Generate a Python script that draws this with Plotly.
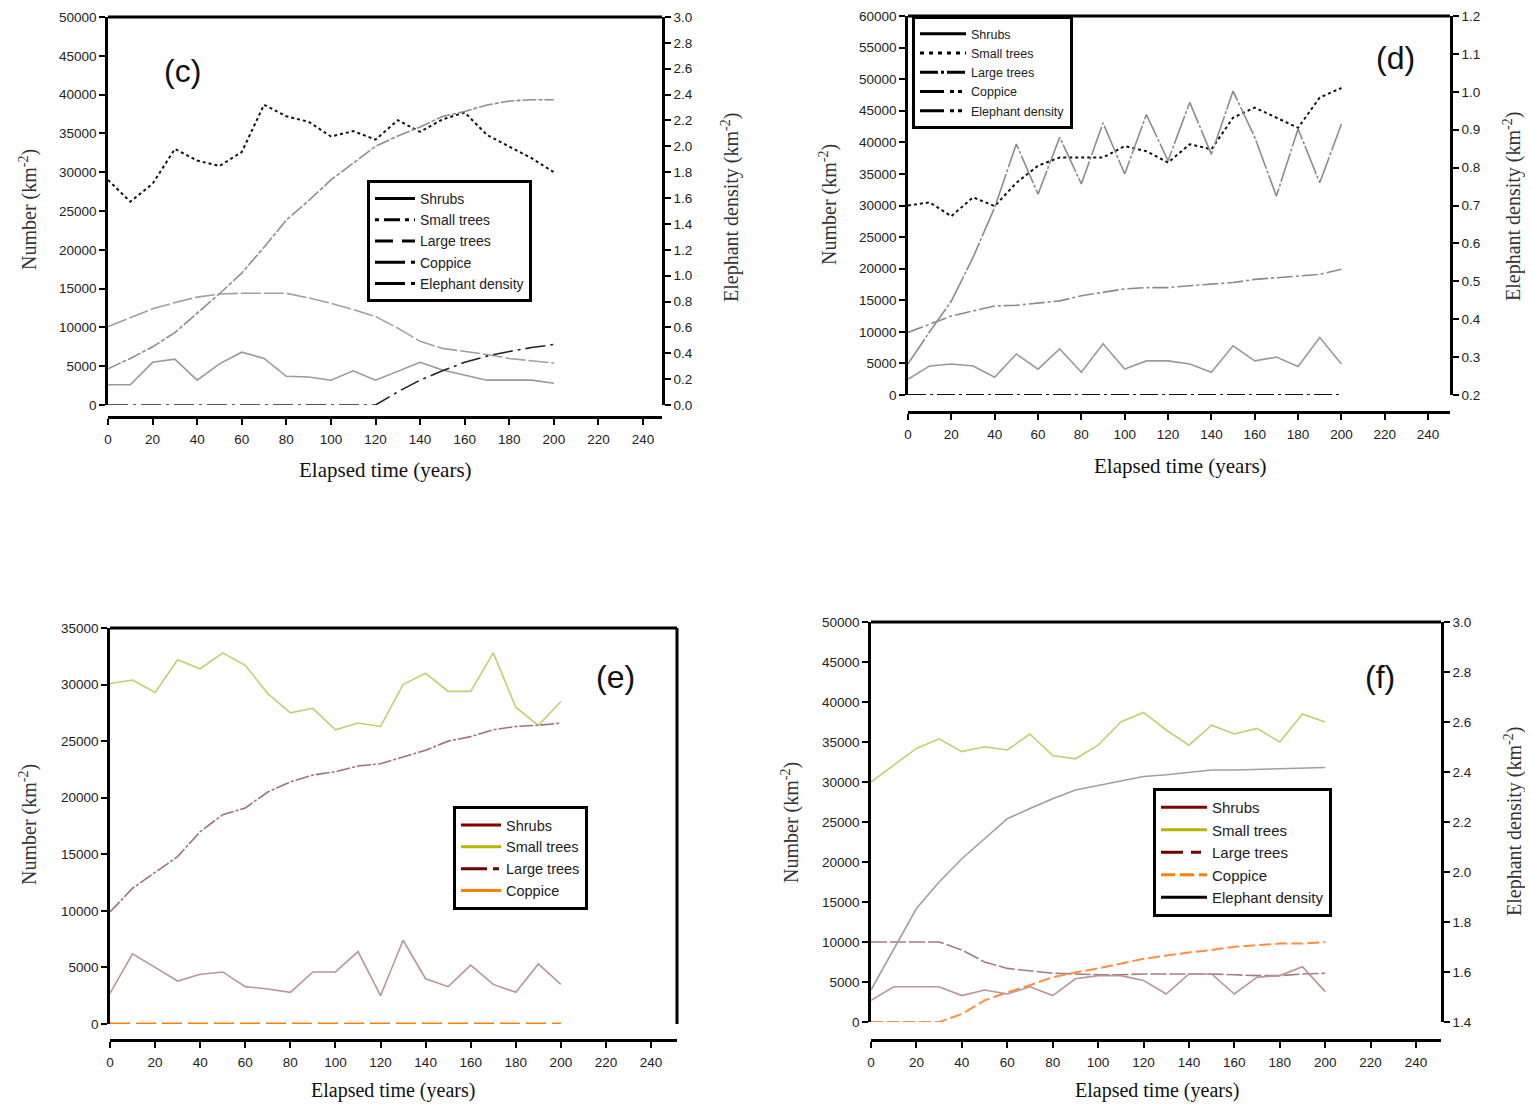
import plotly.graph_objects as go

# The page adds an 8 px body margin, so the figure is sized to fit inside the
# 1533x1111 window and reference pixel positions are shifted by that margin.
W, H = 1533, 1111
OFF = 8
FW, FH = W - 2 * OFF, H - 2 * OFF


def px(p):
    return (p - OFF) / FW


def py(p):
    return 1 - (p - OFF) / FH


years = list(range(0, 201, 10))
x_ticks = list(range(0, 241, 20))

# ---------------- panel (c) ----------------
c_shrubs = [2600, 2600, 5500, 5900, 3200, 5300, 6800, 6000, 3700, 3600, 3200,
            4400, 3200, 4400, 5500, 4500, 3800, 3200, 3200, 3200, 2800]
c_small = [29000, 26200, 28500, 33000, 31500, 30800, 32600, 38700, 37200, 36500, 34600,
           35300, 34200, 36700, 35200, 36800, 37700, 34800, 33300, 31800, 30000]
c_large = [10100, 11300, 12400, 13200, 13900, 14300, 14400, 14400, 14400, 13800, 13100,
           12300, 11400, 9900, 8200, 7300, 6900, 6500, 6000, 5700, 5400]
c_coppice = [0, 0, 0, 0, 0, 0, 0, 0, 0, 0, 0, 0, 0,
             1700, 3200, 4400, 5500, 6300, 6900, 7400, 7800]
c_elephant = [0.28, 0.36, 0.45, 0.56, 0.71, 0.86, 1.02, 1.22, 1.43, 1.58, 1.74,
              1.87, 2.00, 2.08, 2.15, 2.23, 2.27, 2.32, 2.35, 2.36, 2.36]

# ---------------- panel (d) ----------------
d_shrubs = [2500, 4600, 4900, 4600, 2800, 6500, 4100, 7300, 3600, 8100, 4100,
            5400, 5400, 4900, 3600, 7800, 5400, 6000, 4500, 9100, 4900]
d_small = [30000, 30500, 28300, 31300, 29900, 33600, 36300, 37600, 37600, 37600, 39400,
           38600, 36800, 39700, 38900, 43900, 45500, 43900, 42300, 47100, 48600]
d_large = [9900, 11200, 12500, 13300, 14100, 14200, 14600, 14900, 15700, 16200, 16800,
           17000, 17000, 17300, 17500, 17800, 18300, 18600, 18900, 19100, 19900]
d_coppice = [0] * 21
d_elephant = [0.282, 0.367, 0.448, 0.563, 0.695, 0.862, 0.730, 0.880, 0.757, 0.918, 0.783,
              0.940, 0.818, 0.972, 0.835, 1.002, 0.880, 0.725, 0.902, 0.760, 0.915]

# ---------------- panel (e) ----------------
e_shrubs = [2700, 6200, 5000, 3800, 4400, 4600, 3300, 3100, 2800, 4600, 4600,
            6400, 2500, 7400, 4000, 3300, 5200, 3500, 2800, 5300, 3500]
e_small = [30100, 30400, 29300, 32200, 31400, 32800, 31700, 29200, 27500, 27900, 26000,
           26600, 26300, 30000, 31000, 29400, 29400, 32800, 28000, 26400, 28500]
e_large = [9900, 12000, 13400, 14800, 17000, 18500, 19100, 20500, 21400, 22000, 22300,
           22800, 23000, 23600, 24200, 25000, 25400, 26000, 26300, 26400, 26600]
e_coppice = [0] * 21

# ---------------- panel (f) ----------------
f_shrubs = [2700, 4400, 4400, 4400, 3300, 4000, 3500, 4400, 3300, 5400, 5800,
            5800, 5200, 3500, 6000, 6000, 3500, 5600, 5800, 6900, 3800]
f_small = [30000, 32100, 34200, 35400, 33800, 34400, 34000, 36000, 33300, 32900, 34600,
           37500, 38700, 36500, 34600, 37100, 36000, 36700, 35000, 38500, 37500]
f_large = [10000, 10000, 10000, 10000, 9000, 7500, 6700, 6400, 6100, 6000, 5900,
           5900, 6000, 6000, 6000, 6000, 5900, 5800, 5800, 6000, 6100]
f_coppice = [0, 0, 0, 0, 1000, 2700, 3700, 4600, 5600, 6200, 6700,
             7300, 7900, 8300, 8700, 9000, 9400, 9600, 9800, 9800, 10000]
f_elephant = [1.528, 1.694, 1.854, 1.960, 2.053, 2.133, 2.213, 2.254, 2.293, 2.328, 2.347,
              2.366, 2.382, 2.389, 2.398, 2.408, 2.408, 2.411, 2.414, 2.418, 2.418]

legend_names = ["Shrubs", "Small trees", "Large trees", "Coppice", "Elephant density"]

fig = go.Figure()


def line(x, y, xa, ya, color, dash="solid", width=1.6):
    fig.add_trace(go.Scatter(x=x, y=y, xaxis=xa, yaxis=ya, mode="lines",
                             line=dict(color=color, dash=dash, width=width),
                             showlegend=False, hoverinfo="skip"))


def legend_entry(name, xa, ya, legend, color, dash, width=3):
    fig.add_trace(go.Scatter(x=[None], y=[None], xaxis=xa, yaxis=ya, mode="lines",
                             name=name, legend=legend,
                             line=dict(color=color, dash=dash, width=width)))


# panel (c) traces
line(years, c_small, "x", "y", "#111111", "dot", 2)
line(years, c_large, "x", "y", "#a0a0a0", "20px,3px", 1.6)
line(years, c_shrubs, "x", "y", "#9a9a9a", "solid", 1.6)
line(years, c_coppice, "x", "y", "#222222", "20px,5px,3px,5px", 1.6)
line(years, c_elephant, "x", "y2", "#8e8e8e", "14px,2px,4px,2px", 1.6)
c_leg_styles = ["solid", "4px,5px,16px,5px", "18px,9px", "30px,6px,4px,6px", "30px,6px,4px,6px"]
for n, d in zip(legend_names, c_leg_styles):
    legend_entry(n, "x", "y", "legend", "black", d)

# panel (d) traces
line(years, d_small, "x2", "y3", "#111111", "dot", 2)
line(years, d_large, "x2", "y3", "#8a8a8a", "16px,3px,3px,3px", 1.6)
line(years, d_shrubs, "x2", "y3", "#9a9a9a", "solid", 1.6)
line(years, d_coppice, "x2", "y3", "#111111", "18px,4px,3px,4px", 2)
line(years, d_elephant, "x2", "y4", "#8c8c8c", "30px,2px,3px,2px", 1.6)
d_leg_styles = ["solid", "4px,5px", "18px,3px,3px,3px", "24px,6px,4px,4px,4px,6px",
                "24px,6px,4px,4px,4px,6px"]
for n, d in zip(legend_names, d_leg_styles):
    legend_entry(n, "x2", "y3", "legend2", "black", d)

# panel (e) traces
line(years, e_small, "x3", "y5", "#c8cc70", "solid", 1.6)
line(years, e_large, "x3", "y5", "#a07474", "14px,2px,3px,2px", 1.6)
line(years, e_shrubs, "x3", "y5", "#bb9696", "solid", 1.6)
line(years, e_coppice, "x3", "y5", "#ff8000", "20px,6px", 3)
e_leg = [("Shrubs", "#800000", "solid"), ("Small trees", "#b4b400", "solid"),
         ("Large trees", "#700000", "26px,6px,6px,6px"), ("Coppice", "#ff8000", "solid")]
for n, c, d in e_leg:
    legend_entry(n, "x3", "y5", "legend3", c, d)

# panel (f) traces
line(years, f_small, "x4", "y6", "#c8cc70", "solid", 1.6)
line(years, f_large, "x4", "y6", "#a67c7c", "16px,3px", 1.6)
line(years, f_coppice, "x4", "y6", "#ff9040", "12px,4px", 2)
line(years, f_shrubs, "x4", "y6", "#bb9494", "solid", 1.6)
line(years, f_elephant, "x4", "y7", "#a0a0a0", "solid", 1.6)
f_leg = [("Shrubs", "#800000", "solid"), ("Small trees", "#b4b400", "solid"),
         ("Large trees", "#700000", "22px,8px,10px,8px"), ("Coppice", "#ff8000", "14px,5px"),
         ("Elephant density", "black", "solid")]
for n, c, d in f_leg:
    legend_entry(n, "x4", "y6", "legend4", c, d)

tickfont = dict(family="Liberation Sans", size=13.5, color="#222222")
ax = dict(showline=True, linecolor="black", linewidth=2.5, ticks="outside", ticklen=6,
          tickwidth=2, tickcolor="black", showgrid=False, zeroline=False, tickfont=tickfont,
          fixedrange=True, automargin=False, ticklabeloverflow="allow")


def xaxis(x0, x1, pos, rmax):
    return dict(ax, domain=[px(x0), px(x1)], range=[0, rmax], anchor="free",
                position=py(pos), tickvals=x_ticks, ticklabelstandoff=3)


def yleft(y_zero, y_top, rmax, dtick, anchor):
    return dict(ax, domain=[py(y_zero), py(y_top)], range=[0, rmax], dtick=dtick,
                tickformat="d", anchor=anchor)


def yright(over, anchor, r, dtick):
    return dict(ax, overlaying=over, side="right", anchor=anchor, range=r, dtick=dtick,
                tickformat=".1f")


leg_common = dict(bgcolor="white", bordercolor="black", borderwidth=3,
                  xanchor="left", yanchor="top", itemclick=False, itemdoubleclick=False,
                  itemwidth=40)

fig.update_layout(
    width=FW, height=FH, margin=dict(l=0, r=0, t=0, b=0, autoexpand=False),
    paper_bgcolor="white", plot_bgcolor="white",
    xaxis=xaxis(108, 662, 417, 248.5),
    yaxis=yleft(405, 17, 50000, 5000, "x"),
    yaxis2=yright("y", "x", [0, 3], 0.2),
    xaxis2=xaxis(908, 1450, 412, 250.1),
    yaxis3=yleft(395, 16, 60000, 5000, "x2"),
    yaxis4=yright("y3", "x2", [0.2, 1.2], 0.1),
    xaxis3=xaxis(110, 677, 1040, 251.5),
    yaxis5=yleft(1024, 628, 35000, 5000, "x3"),
    xaxis4=xaxis(871, 1441, 1040, 251),
    yaxis6=yleft(1022, 622, 50000, 5000, "x4"),
    yaxis7=yright("y6", "x4", [1.4, 3.0], 0.2),
    legend=dict(leg_common, x=px(367), y=py(180),
                font=dict(family="Liberation Sans", size=14, color="#222")),
    legend2=dict(leg_common, x=px(912), y=py(16), itemwidth=46,
                 font=dict(family="Liberation Sans", size=12.5, color="#222")),
    legend3=dict(leg_common, x=px(453), y=py(806),
                 font=dict(family="Liberation Sans", size=14.5, color="#222")),
    legend4=dict(leg_common, x=px(1153), y=py(788), itemwidth=46,
                 font=dict(family="Liberation Sans", size=15, color="#222")),
)

# frame lines (top borders, right border of panel e)
shapes = []
for x0, x1, y in [(108, 662, 17), (908, 1450, 16), (110, 677, 628), (871, 1441, 622)]:
    shapes.append(dict(type="line", xref="paper", yref="paper", x0=px(x0), x1=px(x1),
                       y0=py(y), y1=py(y), line=dict(color="black", width=3)))
shapes.append(dict(type="line", xref="paper", yref="paper", x0=px(677), x1=px(677),
                   y0=py(628), y1=py(1024), line=dict(color="black", width=3)))
fig.update_layout(shapes=shapes)

annotations = []


def note(text, x, y, font, angle=0):
    annotations.append(dict(text=text, x=px(x), y=py(y), xref="paper", yref="paper",
                            xanchor="center", yanchor="middle", showarrow=False,
                            textangle=angle, font=font))


title_font = dict(family="Liberation Serif", size=21, color="#111")
for x, y in [(385, 470), (1180, 466)]:
    note("Elapsed time (years)", x, y, title_font)
title_font_low = dict(family="Liberation Serif", size=20, color="#111")
for x, y in [(393, 1090), (1157, 1090)]:
    note("Elapsed time (years)", x, y, title_font_low)
ytitle_font = dict(family="Liberation Serif", size=20, color="#333")
for x, y in [(28, 210), (828, 205), (28, 825), (790, 823)]:
    note("Number (km<sup>-2</sup>)", x, y, ytitle_font, -90)
for x, y in [(730, 208), (1513, 207), (1513, 822)]:
    note("Elephant density (km<sup>-2</sup>)", x, y, ytitle_font, -90)
label_font = dict(family="Liberation Sans", size=32, color="#111")
for t, x, y in [("(c)", 182, 71), ("(d)", 1395, 58), ("(e)", 615, 677), ("(f)", 1380, 677)]:
    note(t, x, y, label_font)
fig.update_layout(annotations=annotations)

fig.write_html("out.html")
